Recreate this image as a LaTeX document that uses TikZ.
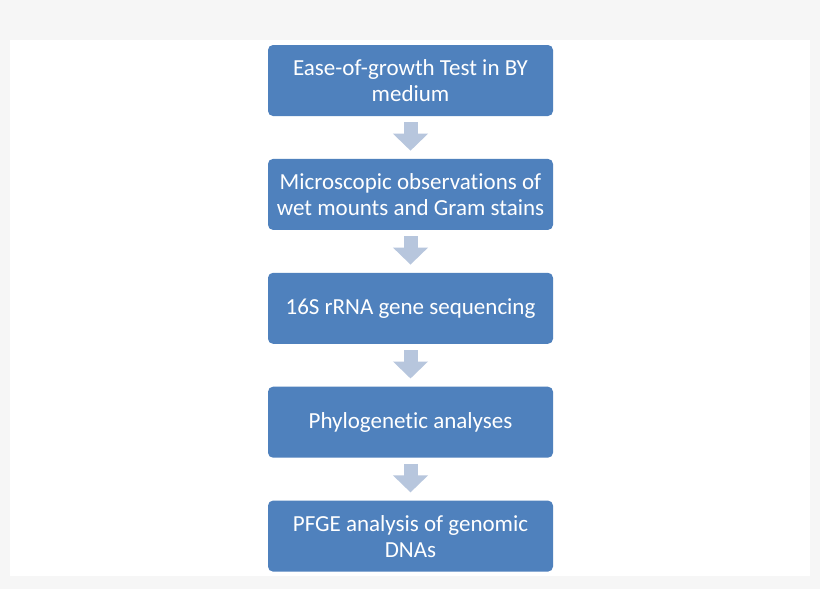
\documentclass[tikz,border=0pt]{standalone}
\usepackage{fontspec}
\setmainfont{Carlito}[Ligatures=NoCommon]
\usepackage{tikz}
\usetikzlibrary{arrows.meta,positioning,calc}
\definecolor{boxblue}{HTML}{4F81BD}
\definecolor{arrowgray}{HTML}{B7C6DD}
\definecolor{pagegray}{HTML}{F6F6F6}
\tikzset{
  stepbox/.style={rectangle, fill=boxblue, rounded corners=5pt, align=center, text=white,
    minimum width=285pt, minimum height=71pt, font=\fontsize{23}{26}\selectfont},
  blockarrow/.style={draw=arrowgray, line width=14pt, -{Triangle[width=34pt,length=17pt]}}
}

\begin{document}
\begin{tikzpicture}[x=1pt, y=1pt, node distance=42.5pt]
  \fill[pagegray] (0,0) rectangle (820,-589);
  \fill[white] (10,-40) rectangle (810,-576);
  \node[stepbox] (growth) at (410.5,-80.5) {Ease-of-growth Test in BY\\medium};
  \node[stepbox, below=of growth] (micro) {Microscopic observations of\\wet mounts and Gram stains};
  \node[stepbox, below=of micro] (seq) {16S rRNA gene sequencing};
  \node[stepbox, below=of seq] (phylo) {Phylogenetic analyses};
  \node[stepbox, below=of phylo] (pfge) {PFGE analysis of genomic\\DNAs};
  \draw[blockarrow] ($(growth.south)+(0,-6)$) -- ($(micro.north)+(0,8)$);
  \draw[blockarrow] ($(micro.south)+(0,-6)$) -- ($(seq.north)+(0,8)$);
  \draw[blockarrow] ($(seq.south)+(0,-6)$) -- ($(phylo.north)+(0,8)$);
  \draw[blockarrow] ($(phylo.south)+(0,-6)$) -- ($(pfge.north)+(0,8)$);
\end{tikzpicture}
\end{document}
